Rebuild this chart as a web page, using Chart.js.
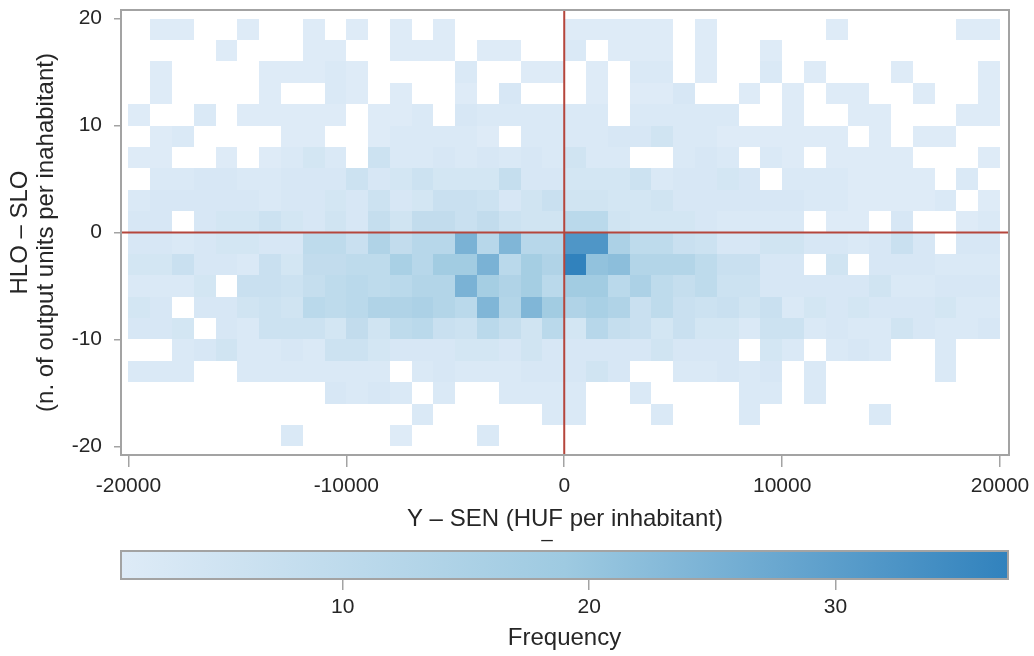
<!DOCTYPE html>
<html lang="en">
<head>
<meta charset="utf-8">
<title>HLO – SLO vs Y – SEN</title>
<script src="https://cdn.jsdelivr.net/npm/chart.js@4.4.0/dist/chart.umd.min.js"></script>
<style>
  html, body { margin: 0; padding: 0; background: #fff; }
  #wrap { position: relative; width: 1034px; height: 656px; }
  #main { position: absolute; left: 0; top: 0; }
  #bar { position: absolute; left: 0; top: 548px; }
</style>
</head>
<body>
<div id="wrap">
  <canvas id="main" width="1034" height="548"></canvas>
  <canvas id="bar" width="1034" height="108"></canvas>
</div>
<script>
// bins: lower edge of each column (Y - SEN) and of each row (HLO - SLO), rows top to bottom
const xBinStart = [-20000, -19000, -18000, -17000, -16000, -15000, -14000, -13000, -12000, -11000,
                   -10000, -9000, -8000, -7000, -6000, -5000, -4000, -3000, -2000, -1000,
                   0, 1000, 2000, 3000, 4000, 5000, 6000, 7000, 8000, 9000,
                   10000, 11000, 12000, 13000, 14000, 15000, 16000, 17000, 18000, 19000]
const xBinWidth = 1000
const yBinStart = [18, 16, 14, 12, 10, 8, 6, 4, 2, 0, -2, -4, -6, -8, -10, -12, -14, -16, -18, -20]
const yBinHeight = 2

// frequency per cell, one row per yBinStart entry, one column per xBinStart entry
const freqRows = [
  [0,1,1,0,0,1,0,0,1,0, 1,0,1,0,1,0,0,0,0,0, 1,1,1,1,1,0,1,0,0,0, 0,0,1,0,0,0,0,0,1,1],
  [0,0,0,0,1,0,0,0,1,1, 0,0,1,1,1,0,1,1,0,0, 2,0,1,1,1,0,1,0,0,1, 0,0,0,0,0,0,0,0,0,0],
  [0,1,0,0,0,0,1,1,1,2, 1,0,0,0,0,2,0,0,1,1, 0,1,0,2,2,0,1,0,0,2, 0,1,0,0,0,1,0,0,0,1],
  [0,1,0,0,0,0,1,0,0,2, 1,0,1,0,0,1,0,3,0,0, 0,1,0,1,1,3,0,0,1,0, 1,0,1,1,0,0,1,0,0,1],
  [1,0,0,2,0,1,1,1,1,1, 0,1,1,2,0,3,2,2,2,2, 2,2,0,2,2,2,2,2,0,0, 1,0,0,1,1,0,0,0,1,1],
  [0,1,2,0,0,0,0,1,1,0, 0,1,2,2,2,2,1,0,2,2, 2,2,3,3,5,2,2,1,1,1, 1,1,1,0,1,0,1,1,0,0],
  [1,1,0,0,1,0,1,2,4,2, 0,6,2,2,3,2,3,2,3,2, 5,2,2,0,0,2,3,2,0,2, 1,0,1,1,1,1,0,0,0,1],
  [0,2,2,3,3,2,2,3,3,3, 6,3,4,6,4,4,4,8,3,3, 4,4,4,6,2,3,3,4,3,0, 2,2,2,1,1,1,1,0,2,0],
  [2,3,3,3,3,3,2,3,3,4, 3,6,3,4,7,7,6,3,5,7, 5,5,4,4,5,3,3,3,3,3, 3,2,2,1,1,1,1,2,0,1],
  [3,3,0,3,4,4,6,4,3,5, 3,8,5,9,9,7,9,6,5,5, 11,11,5,4,4,4,3,2,2,2, 2,0,1,1,0,3,0,0,1,2],
  [3,3,2,3,4,4,3,3,10,10, 7,14,9,12,12,25,12,24,12,12, 32,32,15,10,10,7,6,3,3,5, 5,3,3,2,3,7,3,0,3,3],
  [4,4,7,3,3,2,7,4,9,9, 10,10,16,12,18,18,25,11,17,14, 37,21,22,13,13,13,10,7,7,3, 3,0,5,0,3,3,3,2,2,2],
  [2,2,2,4,0,7,7,6,8,10, 11,10,11,13,13,25,17,14,17,11, 18,18,11,15,10,8,10,6,6,3, 3,3,3,3,5,2,2,3,3,3],
  [4,3,0,3,3,5,6,5,11,10, 11,14,14,15,13,11,24,13,24,18, 14,16,14,7,10,7,6,7,5,7, 2,4,3,4,3,3,3,4,2,2],
  [3,3,4,0,3,2,6,6,6,4, 9,5,10,11,7,6,11,8,5,11, 4,12,8,7,4,7,4,4,2,6, 6,2,3,2,2,5,3,2,2,3],
  [0,0,2,3,5,2,2,3,2,6, 6,4,3,3,3,4,4,3,5,3, 3,3,3,3,5,3,3,3,0,4, 2,0,2,3,2,0,0,2,0,0],
  [2,2,2,0,0,2,2,2,2,2, 2,2,0,2,3,2,2,2,3,3, 3,5,3,0,0,2,2,3,2,3, 0,2,0,0,0,0,0,2,0,0],
  [0,0,0,0,0,0,0,0,0,3, 2,3,2,0,2,0,0,2,2,2, 2,0,0,2,0,0,0,0,2,2, 0,2,0,0,0,0,0,0,0,0],
  [0,0,0,0,0,0,0,0,0,0, 0,0,0,2,0,0,0,0,0,2, 2,0,0,0,2,0,0,0,2,0, 0,0,0,0,2,0,0,0,0,0],
  [0,0,0,0,0,0,0,2,0,0, 0,0,1,0,0,0,2,0,0,0, 0,0,0,0,0,0,0,0,0,0, 0,0,0,0,0,0,0,0,0,0]
]

const xTickValues = [-20000, -10000, 0, 10000, 20000]
const yTickValues = [20, 10, 0, -10, -20]
const freqTickValues = [10, 20, 30]
const freqMin = 1
const freqMax = 37
const colorStops = [[1, '#deebf7'], [19, '#9ecae1'], [37, '#3182bd']]

const FONT = '"Liberation Sans", Arial, sans-serif'
const INK = '#262626'
const FRAME = '#a3a3a3'
const REDLINE = '#b5463c'

Chart.defaults.font.family = FONT
Chart.defaults.color = INK

const hexToRgb = h => [1, 3, 5].map(i => parseInt(h.substr(i, 2), 16))

const freqColor = (v) => {
  for (let i = 1; i < colorStops.length; i++) {
    const [v0, c0] = colorStops[i - 1]
    const [v1, c1] = colorStops[i]
    if (v <= v1 || i === colorStops.length - 1) {
      const t = Math.max(0, Math.min(1, (v - v0) / (v1 - v0)))
      const a = hexToRgb(c0), b = hexToRgb(c1)
      const rgb = a.map((ch, k) => Math.round(ch + (b[k] - ch) * t))
      return `rgb(${rgb[0]},${rgb[1]},${rgb[2]})`
    }
  }
}

const fixedTicks = values => scale => { scale.ticks = values.map(v => ({ value: v })) }
const noPad = size => scale => {
  if (scale.isHorizontal()) scale.height = size
  else scale.width = size
  scale.paddingLeft = 0; scale.paddingRight = 0; scale.paddingTop = 0; scale.paddingBottom = 0
}
const plainNumber = v => String(v)

const heatPlugin = {
  id: 'heatCells',
  beforeDatasetsDraw(chart) {
    const { ctx, chartArea: a, scales: { x, y } } = chart
    ctx.save()
    ctx.beginPath()
    ctx.rect(a.left, a.top, a.width, a.height)
    ctx.clip()
    freqRows.forEach((row, r) => {
      const top = Math.round(y.getPixelForValue(yBinStart[r] + yBinHeight))
      const bottom = Math.round(y.getPixelForValue(yBinStart[r]))
      row.forEach((v, c) => {
        if (!v) return
        const left = Math.round(x.getPixelForValue(xBinStart[c]))
        const right = Math.round(x.getPixelForValue(xBinStart[c] + xBinWidth))
        ctx.fillStyle = freqColor(v)
        ctx.fillRect(left, top, right - left, bottom - top)
      })
    })
    // zero reference lines
    ctx.strokeStyle = REDLINE
    ctx.lineWidth = 2
    const x0 = x.getPixelForValue(0), y0 = y.getPixelForValue(0)
    ctx.beginPath()
    ctx.moveTo(x0, a.top); ctx.lineTo(x0, a.bottom)
    ctx.moveTo(a.left, y0); ctx.lineTo(a.right, y0)
    ctx.stroke()
    ctx.restore()
  },
  afterDraw(chart) {
    const { ctx, chartArea: a } = chart
    ctx.save()
    ctx.strokeStyle = FRAME
    ctx.lineWidth = 2
    ctx.strokeRect(a.left, a.top, a.width, a.height)
    // stray underscore under the x title, as in the source figure
    ctx.fillStyle = INK
    ctx.font = '20px ' + FONT
    ctx.textAlign = 'center'
    ctx.textBaseline = 'alphabetic'
    ctx.fillText('_', 547, 537)
    ctx.restore()
  }
}

new Chart(document.getElementById('main'), {
  type: 'scatter',
  data: { datasets: [] },
  plugins: [heatPlugin],
  options: {
    responsive: false,
    animation: false,
    devicePixelRatio: 1,
    layout: { padding: { left: 0, top: 10, right: 25, bottom: 0 } },
    plugins: { legend: { display: false }, tooltip: { enabled: false } },
    scales: {
      x: {
        type: 'linear', min: -20340, max: 20410,
        afterBuildTicks: fixedTicks(xTickValues),
        afterFit: noPad(93),
        border: { display: false },
        grid: { drawOnChartArea: false, tickLength: 12, color: FRAME, lineWidth: 1.5 },
        ticks: { font: { size: 21 }, color: INK, padding: 7, maxRotation: 0, autoSkip: false, callback: plainNumber },
        title: { display: true, text: 'Y – SEN (HUF per inhabitant)', font: { size: 24 }, color: INK, padding: { top: 0, bottom: 14 } }
      },
      y: {
        type: 'linear', min: -20.8, max: 20.8,
        afterBuildTicks: fixedTicks(yTickValues),
        afterFit: noPad(121),
        border: { display: false },
        grid: { drawOnChartArea: false, tickLength: 7, color: FRAME, lineWidth: 1.5 },
        ticks: { font: { size: 21 }, color: INK, padding: 12, autoSkip: false, callback: plainNumber },
        title: { display: true, text: ['HLO – SLO', '(n. of output units per inahabitant)'], font: { size: 24, lineHeight: 1.1 }, color: INK, padding: { top: 7, bottom: 0 } }
      }
    }
  }
})

// colour bar
const barPlugin = {
  id: 'colorBar',
  beforeDatasetsDraw(chart) {
    const { ctx, chartArea: a, scales: { x } } = chart
    const g = ctx.createLinearGradient(x.getPixelForValue(freqMin), 0, x.getPixelForValue(freqMax), 0)
    colorStops.forEach(([v, c]) => g.addColorStop((v - freqMin) / (freqMax - freqMin), c))
    ctx.save()
    ctx.fillStyle = g
    ctx.fillRect(a.left, a.top, a.width, a.height)
    ctx.strokeStyle = FRAME
    ctx.lineWidth = 2
    ctx.strokeRect(a.left, a.top, a.width, a.height)
    ctx.restore()
  }
}

new Chart(document.getElementById('bar'), {
  type: 'scatter',
  data: { datasets: [] },
  plugins: [barPlugin],
  options: {
    responsive: false,
    animation: false,
    devicePixelRatio: 1,
    layout: { padding: { left: 121, top: 3, right: 26, bottom: 0 } },
    plugins: { legend: { display: false }, tooltip: { enabled: false } },
    scales: {
      x: {
        type: 'linear', min: freqMin, max: freqMax,
        afterBuildTicks: fixedTicks(freqTickValues),
        afterFit: noPad(77),
        border: { display: false },
        grid: { drawOnChartArea: false, tickLength: 11, color: FRAME, lineWidth: 1.5 },
        ticks: { font: { size: 21 }, color: INK, padding: 5, maxRotation: 0, autoSkip: false, callback: plainNumber },
        title: { display: true, text: 'Frequency', font: { size: 24 }, color: INK, padding: { top: 0, bottom: 3 } }
      },
      y: { display: false, min: 0, max: 1 }
    }
  }
})
</script>
</body>
</html>
